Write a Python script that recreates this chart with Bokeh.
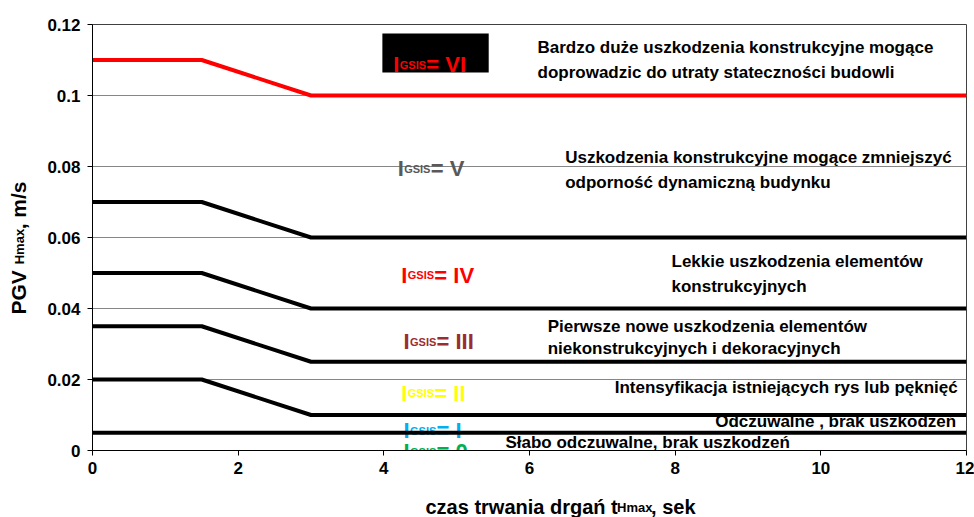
import math
from bokeh.plotting import figure
from bokeh.models import Label, BoxAnnotation, FixedTicker, ColumnDataSource, Range1d
from bokeh.core.properties import value
from bokeh.embed import file_html
from bokeh.resources import INLINE

# ---------------- data ----------------
t_bend = [0, 1.5, 3, 12]
t_flat = [0, 12]
pgv_lim_VI = [0.11, 0.11, 0.10, 0.10]
pgv_lim_V = [0.07, 0.07, 0.06, 0.06]
pgv_lim_IV = [0.05, 0.05, 0.04, 0.04]
pgv_lim_III = [0.035, 0.035, 0.025, 0.025]
pgv_lim_II = [0.02, 0.02, 0.01, 0.01]
pgv_lim_I = [0.005, 0.005]

x_ticks = [0, 2, 4, 6, 8, 10, 12]
y_ticks = [0, 0.02, 0.04, 0.06, 0.08, 0.10, 0.12]
y_tick_labels = ["0", "0.02", "0.04", "0.06", "0.08", "0.1", "0.12"]

classes = ["VI", "V", "IV", "III", "II", "I", "0"]
class_colors = ["#ff0000", "#595959", "#ff0000", "#9b2d30", "#ffff00", "#00b0f0", "#00b050"]
descriptions = [
    "Bardzo duże uszkodzenia konstrukcyjne mogące",
    "doprowadzic do utraty stateczności budowli",
    "Uszkodzenia  konstrukcyjne mogące zmniejszyć",
    "odporność  dynamiczną budynku",
    "Lekkie uszkodzenia  elementów",
    "konstrukcyjnych",
    "Pierwsze nowe  uszkodzenia elementów",
    "niekonstrukcyjnych i dekoracyjnych",
    "Intensyfikacja istniejących rys lub pęknięć",
    "Odczuwalne , brak uszkodzeń",
    "Słabo odczuwalne, brak uszkodzeń",
]
NB = "\u00a0"
x_title_main = "czas trwania drgań t" + NB * 6 + ", sek"
x_title_sub = "Hmax"
y_title_main = "PGV" + NB * 7 + ", m/s"
y_title_sub = "Hmax"

# ---------------- annotation placement (layout only) ----------------
class_lab_x = [4.13, 4.19, 4.24, 4.27, 4.24, 4.27, 4.27]
class_lab_y = [0.1087, 0.0794, 0.0493, 0.0307, 0.0161, 0.0056, -0.0003]
desc_x = [6.11, 6.11, 6.49, 6.49, 7.95, 7.95, 6.25, 6.25, 7.17, 8.55, 5.67]
desc_y = [0.1135, 0.1065, 0.0825, 0.0755, 0.0532, 0.0462, 0.0349, 0.0287, 0.0177, 0.0082, 0.0023]

SANS = "Liberation Sans"

p = figure(width=974, height=517, output_backend="svg", toolbar_location=None,
           x_range=Range1d(0, 12), y_range=Range1d(0, 0.12),
           min_border_left=92, min_border_right=8, min_border_top=24, min_border_bottom=67)
p.background_fill_color = "white"
p.border_fill_color = "white"
p.outline_line_color = "#404040"
p.outline_line_width = 1

# axes
for ax in (p.xaxis[0], p.yaxis[0]):
    ax.axis_line_color = "black"
    ax.major_tick_line_color = "black"
    ax.major_tick_out = 5
    ax.major_tick_in = 0
    ax.minor_tick_out = 0
    ax.minor_tick_in = 0
    ax.major_label_text_font = SANS
    ax.major_label_text_font_style = "bold"
    ax.major_label_text_font_size = "17px"
    ax.major_label_text_color = "black"
p.xaxis[0].ticker = FixedTicker(ticks=x_ticks)
p.yaxis[0].ticker = FixedTicker(ticks=y_ticks)
p.yaxis[0].major_label_overrides = {t: l for t, l in zip(y_ticks, y_tick_labels)}
p.xaxis[0].major_label_standoff = 6
p.yaxis[0].major_label_standoff = 7

p.xgrid.visible = False
p.ygrid[0].ticker = FixedTicker(ticks=y_ticks)
p.ygrid.grid_line_color = "#868686"
p.ygrid.grid_line_width = 1

# black box behind class VI label
p.add_layout(BoxAnnotation(left=3.98, right=5.44, bottom=0.1065, top=0.1175,
                           fill_color="black", fill_alpha=1, line_alpha=0, level="underlay"))

# descriptions (drawn before the lines, so lines sit on top)
p.text(x=desc_x, y=desc_y, text=descriptions, text_font=value(SANS),
       text_font_style="bold", text_font_size="17px", text_color="black",
       text_baseline="middle", text_align="left")

# class labels I_GSIS= ...
px, py, ptxt, psize, poff, pcol = [], [], [], [], [], []
for c, col, x, y in zip(classes, class_colors, class_lab_x, class_lab_y):
    for txt, size, off in (("I", "22px", 0), ("GSIS", "11px", 6.5), ("= " + c, "22px", 33)):
        px.append(x); py.append(y); ptxt.append(txt); psize.append(size)
        poff.append(off); pcol.append(col)
lab_src = ColumnDataSource(dict(x=px, y=py, text=ptxt, size=psize, off=poff, color=pcol))
p.text(x="x", y="y", text="text", x_offset="off", text_font_size="size",
       text_color="color", text_font=value(SANS), text_font_style="bold",
       text_baseline="alphabetic", text_align="left", source=lab_src)

# limit lines
p.line(t_bend, pgv_lim_VI, line_color="#ff0000", line_width=4)
for ys in (pgv_lim_V, pgv_lim_IV, pgv_lim_III, pgv_lim_II):
    p.line(t_bend, ys, line_color="black", line_width=4)
p.line(t_flat, pgv_lim_I, line_color="black", line_width=4)

# axis titles with subscripts, placed in the side panels
def piece(text, x, y, size, side, angle=0.0):
    p.add_layout(Label(x=x, y=y, x_units="screen", y_units="screen", text=text,
                       text_font=SANS, text_font_style="bold", text_font_size=size,
                       text_color="black", text_baseline="alphabetic",
                       text_align="left", angle=angle), side)

piece(x_title_main, 333, -8, "20px", "below")
piece(x_title_sub, 524.5, -483, "13px", "above")

piece(y_title_main, -3, 136, "21px", "left", math.pi / 2)
piece(y_title_sub, 13, 186.2, "13px", "left", math.pi / 2)

open("out.html", "w").write(file_html(p, INLINE))
